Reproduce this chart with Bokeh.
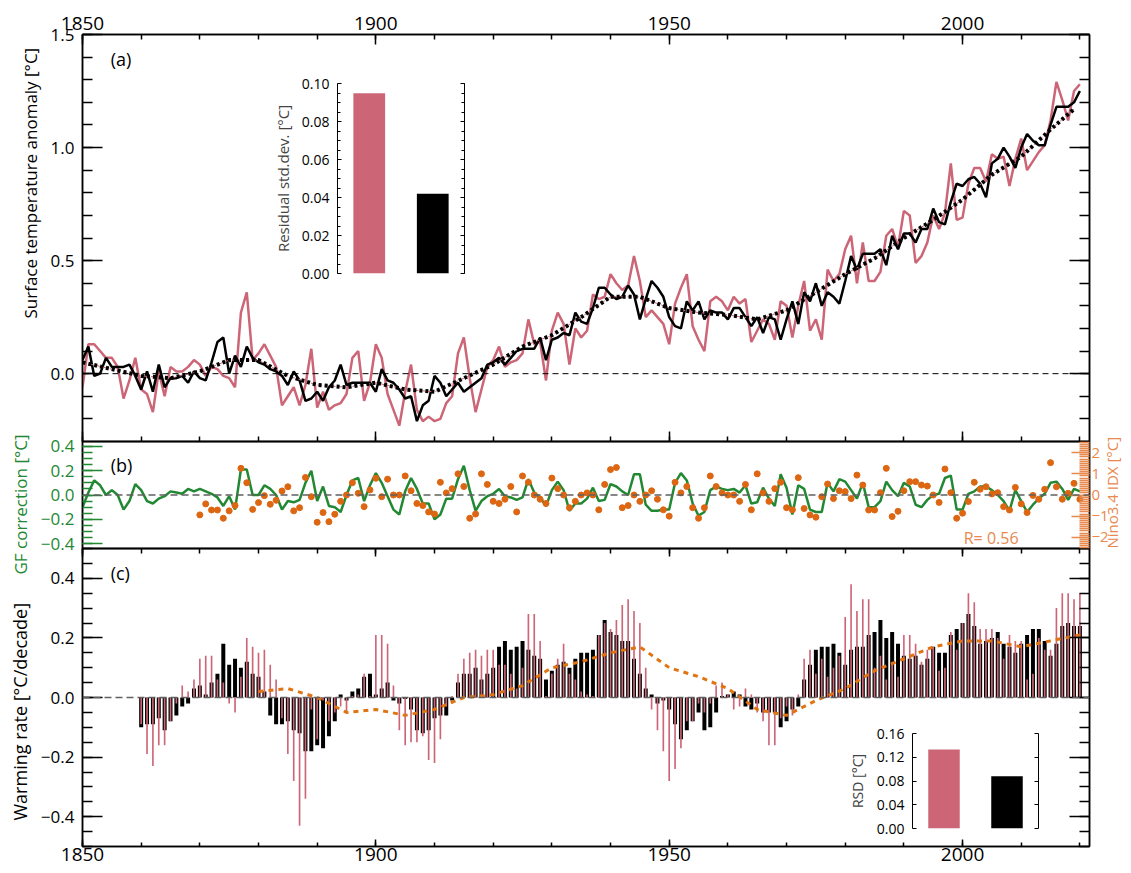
import math
from bokeh.plotting import figure
from bokeh.models import (Range1d, FactorRange, LinearAxis, SingleIntervalTicker,
                          CustomJSTickFormatter, Label, GridBox, Span, Title)
from bokeh.embed import file_html
from bokeh.resources import INLINE

FONT = "Open Sans"
PINK = "#CC6677"
GREEN = "#228833"
ORANGE_DOT = "#DD6612"
ORANGE_TXT = "#E8894E"
ORANGE_LINE = "#E07312"

# ---------------- data ----------------
years = list(range(1850, 2021))
temp_raw = [
    -0.06, 0.13, 0.13, 0.10, 0.07, 0.07, 0.03, -0.11, -0.03, 0.07,
    -0.07, -0.09, -0.17, 0.01, -0.10, 0.03, 0.01, 0.01, 0.03, 0.06,
    0.04, -0.01, 0.03, 0.02, -0.01, -0.02, -0.06, 0.27, 0.36, 0.06,
    0.09, 0.13, 0.08, 0.03, -0.14, -0.10, -0.06, -0.14, -0.05, 0.11,
    -0.15, -0.08, -0.16, -0.14, -0.13, -0.09, 0.07, 0.10, -0.12, -0.04,
    0.13, 0.07, -0.09, -0.16, -0.23, -0.08, 0.04, -0.16, -0.21, -0.19,
    -0.21, -0.20, -0.13, -0.10, 0.09, 0.16, -0.02, -0.17, -0.07, 0.03,
    0.06, 0.12, 0.03, 0.05, 0.06, 0.09, 0.24, 0.13, 0.14, -0.03,
    0.19, 0.27, 0.22, 0.04, 0.20, 0.16, 0.19, 0.35, 0.33, 0.34,
    0.44, 0.40, 0.37, 0.39, 0.52, 0.41, 0.25, 0.28, 0.25, 0.22,
    0.13, 0.31, 0.38, 0.44, 0.21, 0.15, 0.10, 0.32, 0.34, 0.32,
    0.28, 0.34, 0.31, 0.33, 0.14, 0.19, 0.24, 0.22, 0.15, 0.32,
    0.30, 0.16, 0.30, 0.41, 0.19, 0.24, 0.15, 0.46, 0.41, 0.44,
    0.55, 0.61, 0.40, 0.58, 0.41, 0.41, 0.45, 0.61, 0.64, 0.56,
    0.72, 0.70, 0.49, 0.52, 0.58, 0.70, 0.64, 0.71, 0.93, 0.68,
    0.69, 0.84, 0.91, 0.91, 0.85, 0.97, 0.95, 0.96, 0.83, 0.95,
    1.04, 0.90, 0.94, 0.98, 1.01, 1.12, 1.29, 1.21, 1.12, 1.25,
    1.28]
temp_corr = [
    0.06, 0.12, -0.01, 0.00, 0.07, 0.03, 0.03, 0.03, 0.04, -0.01,
    -0.07, 0.01, -0.08, 0.04, -0.06, -0.02, -0.02, -0.01, -0.04, 0.01,
    -0.02, -0.03, 0.05, 0.14, 0.16, 0.00, 0.08, 0.03, 0.12, 0.07,
    0.05, 0.04, 0.02, 0.01, -0.01, -0.05, 0.01, -0.03, -0.12, -0.11,
    -0.08, -0.12, -0.06, -0.03, 0.04, -0.05, -0.04, -0.04, -0.04, -0.04,
    -0.08, 0.02, -0.03, -0.04, -0.07, -0.11, -0.10, -0.21, -0.14, -0.12,
    -0.01, -0.04, -0.10, -0.07, -0.04, -0.08, -0.06, -0.04, -0.02, 0.04,
    0.05, 0.07, 0.04, 0.07, 0.10, 0.11, 0.11, 0.11, 0.16, 0.06,
    0.15, 0.16, 0.18, 0.17, 0.27, 0.23, 0.22, 0.29, 0.38, 0.38,
    0.35, 0.33, 0.34, 0.39, 0.35, 0.24, 0.33, 0.41, 0.38, 0.34,
    0.25, 0.21, 0.20, 0.32, 0.28, 0.32, 0.24, 0.28, 0.27, 0.27,
    0.24, 0.29, 0.29, 0.25, 0.21, 0.25, 0.18, 0.25, 0.24, 0.15,
    0.24, 0.32, 0.22, 0.36, 0.32, 0.40, 0.30, 0.36, 0.34, 0.31,
    0.41, 0.52, 0.46, 0.53, 0.53, 0.53, 0.55, 0.48, 0.61, 0.55,
    0.62, 0.62, 0.58, 0.64, 0.64, 0.73, 0.67, 0.66, 0.76, 0.84,
    0.83, 0.86, 0.87, 0.84, 0.78, 0.93, 0.95, 1.00, 0.96, 0.91,
    1.00, 1.06, 1.03, 1.01, 1.01, 1.10, 1.18, 1.18, 1.18, 1.20,
    1.25]
trend_years = list(range(1850, 2020, 5)) + [2019]
trend_vals = [0.05, 0.02, -0.01, -0.02, 0.01, 0.06, 0.06, -0.01, -0.05, -0.06,
              -0.04, -0.07, -0.08, -0.02, 0.04, 0.12, 0.17, 0.25, 0.34, 0.34,
              0.29, 0.27, 0.26, 0.24, 0.28, 0.36, 0.44, 0.51, 0.60, 0.68,
              0.77, 0.88, 0.96, 1.08, 1.17]

gf_corr = [
    -0.10, 0.02, 0.12, 0.08, 0.00, 0.04, 0.00, -0.12, -0.05, 0.09,
    0.04, -0.05, -0.07, -0.03, -0.01, 0.03, 0.02, 0.01, 0.05, 0.03,
    0.05, 0.03, 0.01, -0.02, -0.09, -0.01, -0.12, 0.21, 0.21, 0.00,
    0.00, 0.08, 0.05, 0.00, -0.12, -0.05, -0.06, -0.04, 0.10, 0.20,
    -0.05, 0.07, -0.09, -0.10, -0.14, 0.00, 0.12, 0.14, -0.05, 0.08,
    0.18, 0.10, -0.01, -0.12, -0.16, 0.03, 0.14, 0.05, -0.07, -0.07,
    -0.20, -0.16, -0.03, -0.03, 0.13, 0.24, 0.04, -0.13, -0.05, -0.01,
    0.01, 0.05, -0.01, -0.02, -0.04, -0.02, 0.13, 0.02, -0.02, -0.09,
    0.04, 0.11, 0.04, -0.13, -0.07, -0.07, -0.03, 0.06, -0.05, -0.04,
    0.09, 0.07, 0.03, 0.00, 0.17, 0.17, -0.08, -0.13, -0.13, -0.12,
    -0.12, 0.10, 0.18, 0.12, -0.07, -0.17, -0.14, 0.04, 0.07, 0.05,
    0.04, 0.05, 0.02, 0.08, -0.07, -0.06, 0.06, -0.03, -0.09, 0.17,
    0.06, -0.16, 0.08, 0.05, -0.12, -0.14, -0.14, 0.10, 0.03, 0.13,
    0.11, 0.04, -0.03, 0.10, -0.10, -0.10, -0.05, 0.11, 0.04, -0.01,
    0.10, 0.07, -0.08, -0.10, -0.04, 0.00, 0.01, 0.14, 0.16, -0.12,
    -0.12, 0.01, 0.03, 0.07, 0.07, 0.04, 0.00, -0.05, -0.13, 0.04,
    -0.05, -0.14, -0.08, -0.03, 0.01, 0.10, 0.11, 0.05, -0.04, 0.05,
    0.03]
nino_years = list(range(1870, 2021))
nino_idx = [
    -0.94, -0.42, -0.71, -0.71, -1.10, -0.75, -0.50, 1.26, 0.58, -0.68,
    -0.36, -0.03, -0.44, -0.25, 0.19, 0.39, -0.75, -0.60, 0.83, -0.08,
    -1.29, -0.83, -1.26, -0.91, -0.30, 0.00, 0.58, 0.08, -0.55, 0.24,
    0.79, -0.08, 0.75, 0.00, 0.00, 0.90, 0.20, -0.40, -0.50, -0.80,
    -0.90, 0.60, 0.10, 0.30, 1.00, 0.40, -1.10, -0.90, 1.00, 0.50,
    -0.30, -0.40, -0.20, 0.40, -0.80, 0.90, 0.60, 0.00, -0.20, -0.40,
    0.80, 0.30, 0.00, -0.60, -0.30, 0.00, 0.10, 0.00, -0.70, 0.50,
    1.20, 1.30, -0.60, -0.50, 0.00, -0.30, 0.00, 0.20, -0.20, -0.70,
    -1.00, 0.60, 0.10, 0.40, -0.60, -1.10, -0.60, 0.90, 0.40, 0.10,
    0.00, 0.00, -0.30, 0.50, -0.70, 1.00, 0.10, -0.30, 0.30, 0.60,
    -0.60, -0.70, 0.82, -0.64, -0.94, -1.05, -0.08, 0.52, -0.17, 0.20,
    0.16, -0.17, 0.94, 0.47, -0.71, -0.71, 0.11, 1.26, -1.02, -0.77,
    0.20, 0.63, 0.63, 0.47, 0.42, 0.00, -0.35, 1.23, 0.11, -1.10,
    -0.86, -0.31, 0.60, 0.27, 0.39, 0.05, 0.11, -0.55, -0.71, 0.36,
    -0.42, -0.83, -0.02, -0.20, 0.27, 1.53, 0.39, -0.20, 0.08, 0.55,
    -0.20]
corr_text = "R= 0.56"

rate_years = list(range(1860, 2021))
rate_corr = [
    -0.10, -0.09, -0.09, -0.07, -0.11, -0.08, -0.06, -0.03, -0.02, 0.03,
    0.04, 0.01, 0.05, 0.08, 0.18, 0.11, 0.13, 0.10, 0.12, 0.08,
    0.07, 0.02, -0.06, -0.09, -0.09, -0.08, -0.11, -0.12, -0.18, -0.18,
    -0.16, -0.17, -0.13, -0.08, 0.01, -0.01, 0.02, 0.03, 0.07, 0.08,
    0.01, 0.03, 0.05, -0.01, -0.02, -0.005, -0.04, -0.11, -0.12, -0.11,
    -0.07, -0.06, -0.06, -0.01, 0.05, 0.08, 0.08, 0.10, 0.06, 0.08,
    0.10, 0.17, 0.19, 0.16, 0.17, 0.19, 0.16, 0.14, 0.13, 0.06,
    0.09, 0.11, 0.12, 0.10, 0.13, 0.15, 0.15, 0.16, 0.21, 0.26,
    0.22, 0.21, 0.19, 0.19, 0.13, 0.08, 0.03, 0.01, -0.02, -0.01,
    -0.04, -0.09, -0.14, -0.11, -0.08, -0.05, -0.11, -0.10, -0.05, 0.005,
    0.01, 0.02, 0.01, -0.03, -0.04, -0.02, -0.05, -0.05, -0.05, -0.10,
    -0.08, -0.04, -0.03, 0.06, 0.11, 0.16, 0.17, 0.17, 0.18, 0.15,
    0.11, 0.16, 0.17, 0.17, 0.21, 0.22, 0.26, 0.20, 0.22, 0.18,
    0.14, 0.13, 0.14, 0.11, 0.13, 0.17, 0.15, 0.15, 0.21, 0.23,
    0.25, 0.28, 0.24, 0.18, 0.19, 0.20, 0.22, 0.18, 0.17, 0.15,
    0.18, 0.21, 0.23, 0.23, 0.19, 0.14, 0.18, 0.24, 0.25, 0.24,
    0.24]
rate_raw = [
    -0.09, -0.19, -0.23, -0.16, -0.16, -0.08, -0.02, 0.04, 0.02, 0.06,
    0.13, 0.14, 0.14, 0.06, 0.05, -0.02, -0.05, 0.07, 0.20, 0.17,
    0.15, 0.16, 0.11, 0.06, -0.07, -0.19, -0.28, -0.43, -0.34, -0.04,
    -0.14, -0.01, -0.08, -0.05, -0.03, -0.05, 0.005, 0.01, 0.08, 0.005,
    0.21, 0.21, 0.18, 0.04, -0.11, -0.16, -0.15, -0.15, -0.13, -0.21,
    -0.22, -0.14, -0.03, 0.005, 0.08, 0.13, 0.15, 0.16, 0.14, 0.16,
    0.16, 0.11, 0.11, 0.08, 0.03, 0.10, 0.28, 0.28, 0.19, 0.005,
    0.08, 0.13, 0.18, 0.08, 0.06, 0.02, 0.01, 0.005, 0.21, 0.25,
    0.23, 0.26, 0.31, 0.33, 0.29, 0.25, 0.10, -0.04, -0.11, -0.18,
    -0.28, -0.24, -0.17, -0.08, -0.08, -0.02, -0.05, -0.02, 0.04, 0.05,
    0.01, -0.04, -0.03, 0.03, 0.01, -0.05, -0.08, -0.16, -0.16, -0.07,
    -0.03, -0.06, 0.01, 0.13, 0.16, 0.08, 0.13, 0.07, 0.10, 0.14,
    0.27, 0.38, 0.29, 0.33, 0.33, 0.10, 0.14, 0.06, 0.12, 0.07,
    0.21, 0.21, 0.18, 0.12, 0.16, 0.17, 0.09, 0.10, 0.22, 0.16,
    0.25, 0.35, 0.32, 0.23, 0.23, 0.23, 0.20, 0.13, 0.21, 0.19,
    0.19, 0.06, 0.08, 0.20, 0.16, 0.16, 0.30, 0.35, 0.35, 0.33,
    0.35]
model_years = list(range(1880, 2021, 5))
model_rate = [0.02, 0.03, 0.00, -0.05, -0.04, -0.06, -0.04, 0.00, 0.01, 0.04,
              0.10, 0.12, 0.15, 0.17, 0.10, 0.07, 0.03, -0.04, -0.06, -0.01,
              0.03, 0.09, 0.13, 0.17, 0.19, 0.19, 0.17, 0.19, 0.21]

inset_series = ["raw", "corrected"]
inset_colors = [PINK, "black"]
resid_sd = [0.095, 0.042]
rate_rsd = [0.133, 0.088]

# shared borders (the grid aligns all frames to the same borders)
BL, BR, BT, BB = 82, 42, 34, 27
FW = 1007


# ---------------- helpers ----------------
def fmt(dec):
    return CustomJSTickFormatter(code=(
        "var v = Math.abs(tick) < 1e-9 ? 0 : tick;"
        "return v.toFixed(%d).replace('-', '\u2212');" % dec))


def style_axis(ax, major_in, minor_in, labels=True, size="17px", color="black",
               tick_color="black", standoff=6, lw=1.5):
    ax.major_tick_in = major_in
    ax.major_tick_out = 0
    ax.minor_tick_in = minor_in
    ax.minor_tick_out = 0
    ax.axis_line_color = "black"
    ax.axis_line_width = lw
    ax.major_tick_line_color = tick_color
    ax.minor_tick_line_color = tick_color
    ax.major_tick_line_width = lw
    ax.minor_tick_line_width = lw
    if labels:
        ax.major_label_text_font = FONT
        ax.major_label_text_font_size = size
        ax.major_label_text_color = color
        ax.major_label_standoff = standoff
    else:
        ax.major_label_text_font_size = "1px"
        ax.major_label_text_color = None
        ax.major_label_standoff = 0


def base_fig(fh, yr, margin, xloc="below"):
    p = figure(frame_width=FW, frame_height=fh,
               x_range=Range1d(1850 - 1e-6, 1850 + FW / 5.867),
               y_range=yr, x_axis_location=xloc, output_backend="svg",
               toolbar_location=None, min_border_left=BL, min_border_right=BR,
               min_border_top=BT, min_border_bottom=BB, margin=margin)
    p.grid.visible = False
    p.outline_line_color = "black"
    p.outline_line_width = 1.5
    p.background_fill_color = None
    p.border_fill_color = None
    return p


def text(p, x, y, s, size, color="black"):
    p.add_layout(Label(x=x, y=y, text=s, text_font=FONT, text_font_size=size,
                       text_color=color, text_baseline="middle"))


def ytitle(p, s, offset, standoff, size="18px", color="black"):
    # align="left": text starts `offset` px above the bottom of the frame
    p.add_layout(Title(text=s, align="left", offset=offset, standoff=standoff,
                       text_font=FONT, text_font_size=size,
                       text_font_style="normal", text_color=color), "left")


# ---------------- panel (a) ----------------
pa = base_fig(407, Range1d(-0.30, 1.5 + 1e-6), (0, 0, 0, 0), xloc="above")
pa.xaxis.ticker = SingleIntervalTicker(interval=50, num_minor_ticks=5)
style_axis(pa.xaxis[0], 10, 5, size="19px", standoff=5)
ax_b = LinearAxis(ticker=SingleIntervalTicker(interval=50, num_minor_ticks=5))
style_axis(ax_b, 10, 5, labels=False)
pa.add_layout(ax_b, "below")
pa.yaxis.ticker = SingleIntervalTicker(interval=0.5, num_minor_ticks=5)
pa.yaxis.formatter = fmt(1)
style_axis(pa.yaxis[0], 20, 10, size="17px", standoff=8)
ax_r = LinearAxis(ticker=SingleIntervalTicker(interval=0.5, num_minor_ticks=5))
style_axis(ax_r, 20, 10, labels=False)
pa.add_layout(ax_r, "right")
ytitle(pa, "Surface temperature anomaly [\u00b0C]", 123, 12, size="17px")

pa.add_layout(Span(location=0, dimension="width", line_color="black",
                   line_width=1, line_dash="6 4"))
pa.line(years, temp_raw, line_color=PINK, line_width=2.5)
pa.line(years, temp_corr, line_color="black", line_width=2.5)
pa.line(trend_years, trend_vals, line_color=PINK, line_width=1, line_dash="4 3")
pa.line(trend_years, trend_vals, line_color="black", line_width=4, line_dash="3 3")
text(pa, 1854.8, 1.39, "(a)", "18px")

# ---------------- panel (b) ----------------
pb = base_fig(107, Range1d(-0.44, 0.44), (441 - BT, 0, 0, 0), xloc=None)
pb.extra_y_ranges = {"nino": Range1d(-2.53, 2.53)}
pb.yaxis.ticker = SingleIntervalTicker(interval=0.2, num_minor_ticks=4)
pb.yaxis.formatter = fmt(1)
style_axis(pb.yaxis[0], 20, 10, size="17px", color=GREEN, tick_color=GREEN, standoff=8)
ax_n = LinearAxis(y_range_name="nino",
                  ticker=SingleIntervalTicker(interval=1, num_minor_ticks=10),
                  formatter=fmt(0))
style_axis(ax_n, 18, 10, size="15px", color=ORANGE_TXT, tick_color=ORANGE_TXT, standoff=2)
ax_n.axis_label = "Nino3.4 IDX [\u00b0C]"
ax_n.axis_label_text_font = FONT
ax_n.axis_label_text_font_size = "15px"
ax_n.axis_label_text_font_style = "normal"
ax_n.axis_label_text_color = ORANGE_TXT
ax_n.axis_label_standoff = 0
if "axis_label_align" in ax_n.properties():
    # read bottom-to-top, starting at the bottom of the panel
    ax_n.axis_label_orientation = math.pi / 2
    ax_n.axis_label_align = "start"
pb.add_layout(ax_n, "right")
ytitle(pb, "GF correction [\u00b0C]", -26, 11, size="17px", color=GREEN)
pb.add_layout(Span(location=0, dimension="width", line_color="#606060",
                   line_width=1.5, line_dash="7 4"))
pb.line(years, gf_corr, line_color=GREEN, line_width=2.5)
pb.scatter(nino_years, nino_idx, y_range_name="nino", size=6,
           fill_color=ORANGE_DOT, line_color=ORANGE_DOT)
text(pb, 1854.8, 0.247, "(b)", "18px")
text(pb, 2000.2, -0.35, corr_text, "16px", color=ORANGE_TXT)

# ---------------- panel (c) ----------------
pc = base_fig(298, Range1d(-0.5, 0.5), (548 - BT, 0, 0, 0))
pc.xaxis.ticker = SingleIntervalTicker(interval=50, num_minor_ticks=5)
style_axis(pc.xaxis[0], 7, 4, size="19px", standoff=1)
ax_t = LinearAxis(ticker=SingleIntervalTicker(interval=50, num_minor_ticks=5))
style_axis(ax_t, 8, 5, labels=False)
pc.add_layout(ax_t, "above")
pc.yaxis.ticker = SingleIntervalTicker(interval=0.2, num_minor_ticks=4)
pc.yaxis.formatter = fmt(1)
style_axis(pc.yaxis[0], 20, 10, size="17px", standoff=8)
ax_r2 = LinearAxis(ticker=SingleIntervalTicker(interval=0.2, num_minor_ticks=4))
style_axis(ax_r2, 20, 10, labels=False)
pc.add_layout(ax_r2, "right")
ytitle(pc, "Warming rate [\u00b0C/decade]", 26, 11)
pc.add_layout(Span(location=0, dimension="width", line_color="#606060",
                   line_width=1.5, line_dash="7 4"))
pc.vbar(x=rate_years, top=rate_corr, bottom=0, width=0.68,
        fill_color="black", line_color=None)
pc.vbar(x=rate_years, top=rate_raw, bottom=0, width=0.28,
        fill_color=PINK, line_color=None)
pc.line(model_years, model_rate, line_color=ORANGE_LINE, line_width=3, line_dash="5 5")
text(pc, 1854.8, 0.417, "(c)", "18px")


# ---------------- insets ----------------
def inset(fw, fh, ymax, interval, minor, values, label, margin, standoff, size):
    p = figure(frame_width=fw, frame_height=fh, x_range=FactorRange(*inset_series),
               y_range=Range1d(0, ymax), x_axis_location=None,
               output_backend="svg", toolbar_location=None,
               min_border_left=BL, min_border_right=BR, min_border_top=BT,
               min_border_bottom=BB, margin=margin)
    p.grid.visible = False
    p.outline_line_color = None
    p.background_fill_color = None
    p.border_fill_color = None
    p.yaxis.ticker = SingleIntervalTicker(interval=interval, num_minor_ticks=minor)
    p.yaxis.formatter = fmt(2)
    style_axis(p.yaxis[0], 4, 3, size="14px", standoff=8, lw=1)
    p.yaxis.axis_label = label
    p.yaxis.axis_label_text_font = FONT
    p.yaxis.axis_label_text_font_size = size
    p.yaxis.axis_label_text_font_style = "normal"
    p.yaxis.axis_label_standoff = standoff
    r = LinearAxis(ticker=SingleIntervalTicker(interval=interval, num_minor_ticks=minor))
    style_axis(r, 4, 3, labels=False, lw=1)
    p.add_layout(r, "right")
    p.vbar(x=inset_series, top=values, width=0.5, fill_color=inset_colors,
           line_color=None)
    return p


ia = inset(127, 190, 0.1001, 0.02, 4, resid_sd, "Residual std.dev. [\u00b0C]",
           (83 - BT, 0, 0, 337 - BL), 6, "15px")
ic = inset(126, 95, 0.1601, 0.04, 0, rate_rsd, "RSD [\u00b0C]",
           (733 - BT, 0, 0, 912 - BL), 7, "14px")

grid = GridBox(children=[(pa, 0, 0), (pc, 0, 0), (pb, 0, 0), (ia, 0, 0), (ic, 0, 0)])
open("out.html", "w").write(file_html(grid, INLINE))
